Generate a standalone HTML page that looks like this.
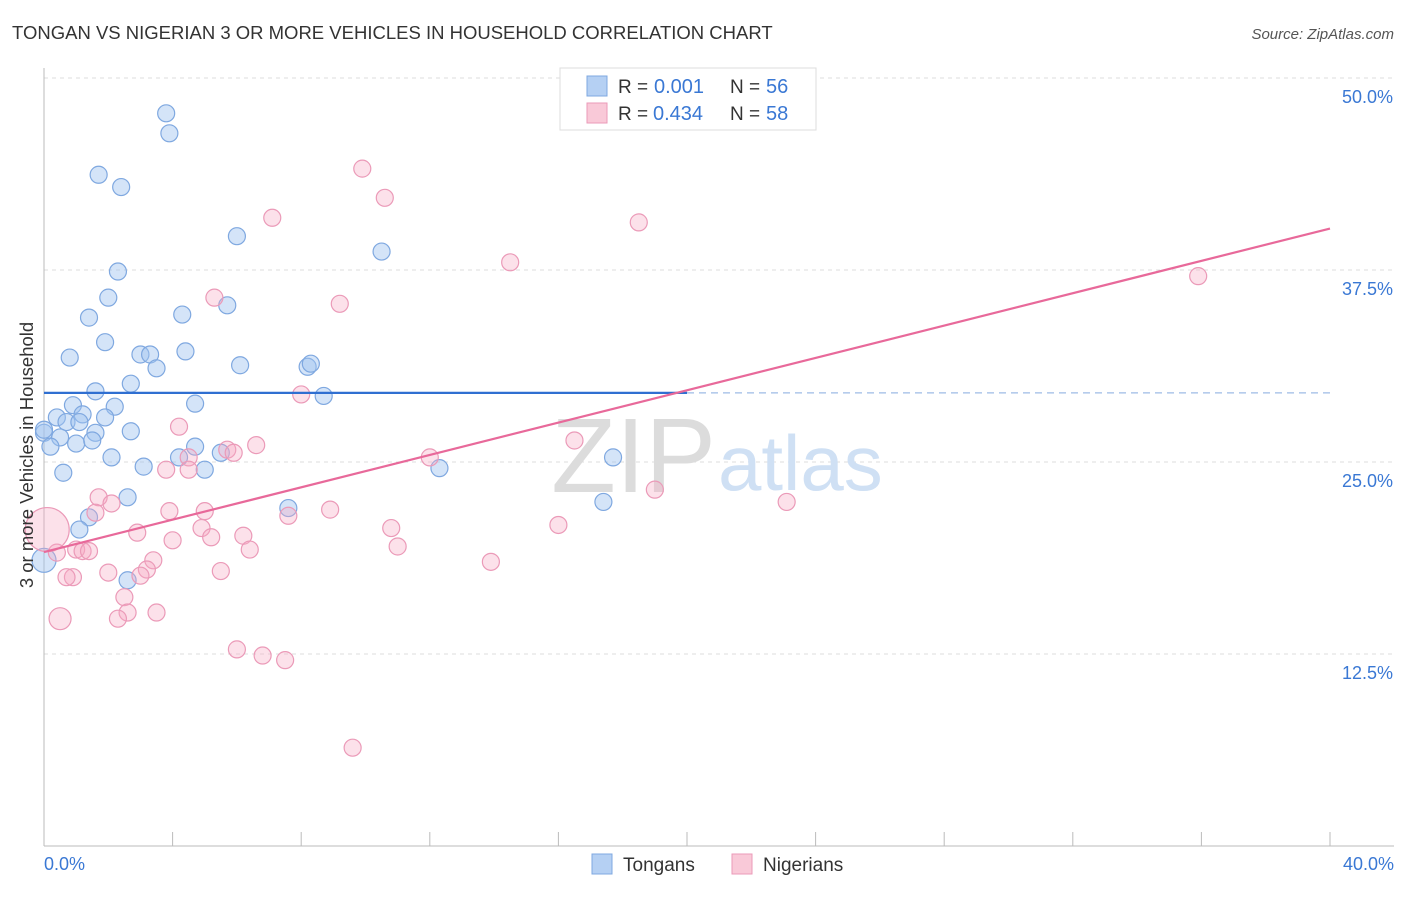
<!DOCTYPE html>
<html><head><meta charset="utf-8"><style>
body{margin:0;background:#fff;font-family:"Liberation Sans",sans-serif;}
svg text{font-family:"Liberation Sans",sans-serif;}
</style></head><body>
<svg id="chart" width="1406" height="892">
<text x="12" y="39" font-size="18.5" fill="#333">TONGAN VS NIGERIAN 3 OR MORE VEHICLES IN HOUSEHOLD CORRELATION CHART</text>
<text x="1394" y="39" font-size="15" fill="#555" font-style="italic" text-anchor="end">Source: ZipAtlas.com</text>
<g id="grid"></g>
<text x="716" y="492" font-size="106" fill="#dcdcdc" text-anchor="end" font-family="Liberation Serif">ZIP</text>
<text x="718" y="490" font-size="78" fill="#cfe0f4">atlas</text>
<g id="pts"></g>
<g id="lines"></g>
<text x="33" y="455" font-size="18.5" fill="#333" text-anchor="middle" transform="rotate(-90 33 455)">3 or more Vehicles in Household</text>
<text x="44" y="870" font-size="18" fill="#3a78d4">0.0%</text>
<text x="1394" y="870" font-size="18" fill="#3a78d4" text-anchor="end">40.0%</text>
<g>
<rect x="560" y="68" width="256" height="62" fill="#fff" stroke="#ddd"/>
<rect x="587" y="76" width="20" height="20" fill="#b5d0f3" stroke="#7fa8e0"/>
<rect x="587" y="103" width="20" height="20" fill="#f9c9d8" stroke="#eb9ab8"/>
<text x="618" y="93" font-size="19" fill="#333">R =</text>
<text x="654" y="93" font-size="20" fill="#3a78d4">0.001</text>
<text x="730" y="93" font-size="19" fill="#333">N =</text>
<text x="766" y="93" font-size="20" fill="#3a78d4">56</text>
<text x="618" y="120" font-size="19" fill="#333">R =</text>
<text x="653" y="120" font-size="20" fill="#3a78d4">0.434</text>
<text x="730" y="120" font-size="19" fill="#333">N =</text>
<text x="766" y="120" font-size="20" fill="#3a78d4">58</text>
</g>
<g>
<rect x="592" y="854" width="20" height="20" fill="#b5d0f3" stroke="#7fa8e0"/>
<text x="623" y="871" font-size="19" fill="#333">Tongans</text>
<rect x="732" y="854" width="20" height="20" fill="#f9c9d8" stroke="#eb9ab8"/>
<text x="763" y="871" font-size="19" fill="#333">Nigerians</text>
</g>
</svg>
<script>
const yTicks=[12.5,25.0,37.5,50.0];
const xTicks=[0,4,8,12,16,20,24,28,32,36,40];
const tonganX=[3.8,3.9,1.7,2.4,6.0,10.5,2.3,2.0,5.7,1.4,4.3,1.9,0.8,3.0,3.3,4.4,3.5,6.1,8.2,8.3,2.7,1.6,8.7,4.7,0.9,2.2,1.2,1.9,0.4,0.7,1.1,2.7,1.6,0.0,0.5,1.0,1.5,4.7,0.2,5.5,2.1,4.2,3.1,5.0,0.6,12.3,17.7,2.6,17.4,7.6,1.4,1.1,0.0,2.6,0.0];
const tonganY=[47.7,46.4,43.7,42.9,39.7,38.7,37.4,35.7,35.2,34.4,34.6,32.8,31.8,32.0,32.0,32.2,31.1,31.3,31.2,31.4,30.1,29.6,29.3,28.8,28.7,28.6,28.1,27.9,27.9,27.6,27.6,27.0,26.9,26.9,26.6,26.2,26.4,26.0,26.0,25.6,25.3,25.3,24.7,24.5,24.3,24.6,25.3,22.7,22.4,22.0,21.4,20.6,18.6,17.3,27.1];
const tonganR=[8.5,8.5,8.5,8.5,8.5,8.5,8.5,8.5,8.5,8.5,8.5,8.5,8.5,8.5,8.5,8.5,8.5,8.5,8.5,8.5,8.5,8.5,8.5,8.5,8.5,8.5,8.5,8.5,8.5,8.5,8.5,8.5,8.5,8.5,8.5,8.5,8.5,8.5,8.5,8.5,8.5,8.5,8.5,8.5,8.5,8.5,8.5,8.5,8.5,8.5,8.5,8.5,12,8.5,8.5];
const nigX=[9.9,10.6,7.1,18.5,14.5,35.9,5.3,9.2,8.0,4.2,6.6,5.7,5.9,16.5,12.0,4.5,4.5,3.8,19.0,1.7,2.1,1.6,23.1,3.9,5.0,8.9,7.6,16.0,10.8,4.9,2.9,5.2,6.2,4.0,11.0,6.4,0.4,1.0,1.2,1.4,3.4,3.2,13.9,5.5,2.0,3.0,0.9,0.7,2.5,2.6,3.5,2.3,0.5,6.0,6.8,7.5,9.6,0.1];
const nigY=[44.1,42.2,40.9,40.6,38.0,37.1,35.7,35.3,29.4,27.3,26.1,25.8,25.6,26.4,25.3,25.3,24.5,24.5,23.2,22.7,22.3,21.7,22.4,21.8,21.8,21.9,21.5,20.9,20.7,20.7,20.4,20.1,20.2,19.9,19.5,19.3,19.1,19.3,19.2,19.2,18.6,18.0,18.5,17.9,17.8,17.6,17.5,17.5,16.2,15.2,15.2,14.8,14.8,12.8,12.4,12.1,6.4,20.6];
const nigR=[8.5,8.5,8.5,8.5,8.5,8.5,8.5,8.5,8.5,8.5,8.5,8.5,8.5,8.5,8.5,8.5,8.5,8.5,8.5,8.5,8.5,8.5,8.5,8.5,8.5,8.5,8.5,8.5,8.5,8.5,8.5,8.5,8.5,8.5,8.5,8.5,8.5,8.5,8.5,8.5,8.5,8.5,8.5,8.5,8.5,8.5,8.5,8.5,8.5,8.5,8.5,8.5,11,8.5,8.5,8.5,8.5,22];
const tonganTrend=[29.5,29.5];
const nigTrend=[19.14,40.2];
const NS='http://www.w3.org/2000/svg';
const X=v=>44+v/40*1286, Y=v=>846-v/50*768;
function mk(t,a,p){const e=document.createElementNS(NS,t);for(const k in a)e.setAttribute(k,a[k]);p.appendChild(e);return e;}
const g=document.getElementById('grid');
for(const t of yTicks){
 const l=mk('line',{x1:44,x2:1394,y1:Y(t),y2:Y(t),stroke:'#ddd','stroke-dasharray':'4,4'},g);
 
 
 const tx=mk('text',{x:1393,y:Y(t)+25,'font-size':18,fill:'#3a78d4','text-anchor':'end'},g);
 tx.textContent=t.toFixed(1)+'%';
 
 
}
mk('line',{x1:44,x2:1394,y1:846,y2:846,stroke:'#bbb'},g);
mk('line',{x1:44,x2:44,y1:68,y2:846,stroke:'#bbb'},g);
for(const t of xTicks){
 const l=mk('line',{x1:X(t),x2:X(t),y1:832,y2:846,stroke:'#bbb'},g);
 
 
}
const p=document.getElementById('pts');
tonganX.forEach((v,i)=>{
 const c=mk('circle',{cx:X(v),cy:Y(tonganY[i]),r:tonganR[i],fill:'rgba(160,196,240,0.45)',stroke:'#7fa8e0','stroke-width':1.2},p);
 
 
});
nigX.forEach((v,i)=>{
 const c=mk('circle',{cx:X(v),cy:Y(nigY[i]),r:nigR[i],fill:'rgba(245,170,195,0.35)',stroke:'#eb9ab8','stroke-width':1.2},p);
 
 
});
const L=document.getElementById('lines');
const b1=mk('line',{x1:X(0),y1:Y(tonganTrend[0]),x2:X(20),y2:Y(tonganTrend[0]+(tonganTrend[1]-tonganTrend[0])/2),stroke:'#2f6fd1','stroke-width':2.2},L);


const b2=mk('line',{x1:X(20),y1:Y(tonganTrend[0]+(tonganTrend[1]-tonganTrend[0])/2),x2:X(40),y2:Y(tonganTrend[1]),stroke:'#9dbbe6','stroke-width':1.3,'stroke-dasharray':'7,5'},L);


const pl=mk('line',{x1:X(0),y1:Y(nigTrend[0]),x2:X(40),y2:Y(nigTrend[1]),stroke:'#e8699a','stroke-width':2.2},L);


</script>
</body></html>
